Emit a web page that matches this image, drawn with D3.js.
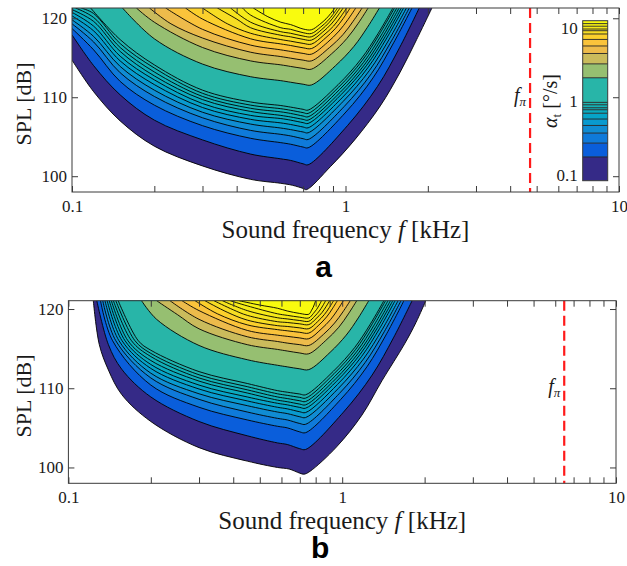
<!DOCTYPE html>
<html lang="en">
<head>
<meta charset="utf-8" />
<title>Rotation rate contours</title>
<style>
  body { margin: 0; background: #fff; }
  svg { display: block; font-family: 'Liberation Serif', serif; }
</style>
</head>
<body>
<svg id="chart" width="627" height="566"></svg>
<script src="https://d3js.org/d3.v7.min.js"></script>
<script>
// -----------------------------------------------------
// Data
// -----------------------------------------------------
// contour levels of alpha_t [deg/s], outermost first
const levels = [0.1, 0.175, 0.27, 0.37, 0.47, 0.575, 0.69, 0.77, 0.82, 0.9, 0.97,
                2.1, 3.25, 4.5, 5.7, 7.0, 8.3, 9.2, 9.7, 10.6, 11.5];
const cbDomain = [0.083, 12.6];
const cbTicks = [0.1, 1, 10];
const xTicks = [0.1, 1, 10];
const yTicks = [100, 110, 120];
const fPiA = 4.73;   // kHz
const fPiB = 6.47;   // kHz

// panel a: each contour as [frequency kHz, SPL dB] points
const contoursA = [
  [[0.1,114.7],[0.12,110.7],[0.15,107.0],[0.2,103.8],[0.3,101.3],[0.45,99.6],[0.58,99.1],[0.64,98.85],[0.7,98.45],[0.72,98.3],[0.88,101.2],[1.08,104.6],[1.34,108.9],[1.58,113.1],[1.82,117.3],[2.07,121.3]],
  [[0.1,117.9],[0.12,114.0],[0.15,110.3],[0.2,107.1],[0.3,104.6],[0.45,102.8],[0.58,102.2],[0.63,102.0],[0.7,101.57],[0.73,101.45],[1.017,106.41],[1.31,111.38],[1.58,116.34],[1.86,121.3]],
  [[0.1,118.7],[0.12,116.0],[0.15,112.0],[0.2,109.0],[0.3,106.4],[0.45,104.8],[0.58,104.25],[0.63,104.05],[0.7,103.69],[0.73,103.6],[0.996,108.0],[1.261,112.45],[1.5,116.9],[1.75,121.3]],
  [[0.1,119.3],[0.12,117.0],[0.15,113.1],[0.2,110.1],[0.3,107.4],[0.45,105.8],[0.58,105.3],[0.63,105.1],[0.7,104.75],[0.73,104.65],[0.988,108.81],[1.243,112.98],[1.473,117.14],[1.71,121.3]],
  [[0.1,119.8],[0.12,117.7],[0.15,113.9],[0.2,110.9],[0.3,108.1],[0.45,106.6],[0.58,106.1],[0.63,105.9],[0.7,105.6],[0.73,105.5],[0.979,109.45],[1.224,113.4],[1.445,117.35],[1.67,121.3]],
  [[0.1,120.3],[0.12,118.4],[0.15,114.6],[0.2,111.6],[0.3,108.7],[0.45,107.2],[0.58,106.75],[0.63,106.55],[0.7,106.23],[0.73,106.13],[0.971,109.92],[1.206,113.72],[1.416,117.51],[1.63,121.3]],
  [[0.1,120.75],[0.12,119.0],[0.15,115.2],[0.2,112.2],[0.3,109.2],[0.45,107.7],[0.58,107.3],[0.63,107.1],[0.7,106.78],[0.73,106.68],[0.964,110.34],[1.192,113.99],[1.395,117.65],[1.60,121.3]],
  [[0.1,121.1],[0.12,119.6],[0.15,115.8],[0.2,112.7],[0.3,109.7],[0.45,108.2],[0.58,107.7],[0.63,107.5],[0.7,107.2],[0.73,107.1],[0.958,110.65],[1.178,114.2],[1.373,117.75],[1.57,121.3]],
  [[0.103,121.3],[0.12,120.1],[0.15,116.3],[0.2,113.2],[0.3,110.1],[0.45,108.6],[0.58,108.15],[0.63,107.95],[0.7,107.62],[0.73,107.52],[0.951,110.97],[1.164,114.41],[1.352,117.86],[1.54,121.3]],
  [[0.108,121.3],[0.12,120.6],[0.15,116.8],[0.2,113.7],[0.3,110.5],[0.45,109.0],[0.58,108.55],[0.63,108.35],[0.7,108.05],[0.73,107.95],[0.945,111.29],[1.15,114.63],[1.329,117.96],[1.51,121.3]],
  [[0.117,121.3],[0.15,117.3],[0.2,114.1],[0.3,110.9],[0.45,109.4],[0.58,108.95],[0.63,108.75],[0.7,108.47],[0.73,108.37],[0.94,111.6],[1.14,114.84],[1.316,118.07],[1.49,121.3]],
  [[0.153,121.3],[0.2,117.4],[0.3,114.2],[0.45,112.6],[0.58,112.1],[0.63,111.9],[0.7,111.65],[0.75,111.55],[0.919,113.99],[1.073,116.43],[1.203,118.86],[1.33,121.3]],
  [[0.172,121.3],[0.2,119.5],[0.3,116.3],[0.45,114.6],[0.58,114.1],[0.63,113.9],[0.7,113.65],[0.75,113.55],[0.889,115.49],[1.011,117.43],[1.113,119.36],[1.21,121.3]],
  [[0.192,121.3],[0.23,119.3],[0.3,117.5],[0.45,115.7],[0.58,115.15],[0.63,114.95],[0.7,114.7],[0.75,114.6],[0.873,116.28],[0.98,117.95],[1.067,119.63],[1.15,121.3]],
  [[0.22,121.3],[0.3,118.6],[0.45,116.6],[0.58,116.0],[0.63,115.8],[0.7,115.55],[0.75,115.45],[0.857,116.91],[0.947,118.38],[1.021,119.84],[1.09,121.3]],
  [[0.26,121.3],[0.3,119.9],[0.45,117.4],[0.58,116.75],[0.63,116.55],[0.7,116.26],[0.75,116.16],[0.842,117.45],[0.92,118.73],[0.982,120.0],[1.04,121.3]],
  [[0.30,121.3],[0.37,119.3],[0.45,118.1],[0.58,117.3],[0.63,117.1],[0.7,116.82],[0.75,116.72],[0.833,117.87],[0.904,119.01],[0.959,120.16],[1.01,121.3]],
  [[0.34,121.3],[0.4,119.9],[0.45,118.8],[0.58,117.85],[0.63,117.65],[0.7,117.33],[0.75,117.23],[0.825,118.25],[0.887,119.27],[0.935,120.28],[0.98,121.3]],
  [[0.38,121.3],[0.45,119.5],[0.58,118.3],[0.63,118.1],[0.7,117.75],[0.75,117.65],[0.818,118.56],[0.872,119.48],[0.915,120.39],[0.955,121.3]],
  [[0.42,121.3],[0.45,120.4],[0.58,118.8],[0.63,118.6],[0.7,118.17],[0.75,118.07],[0.811,118.88],[0.861,119.68],[0.9,120.49],[0.935,121.3]],
  [[0.46,121.3],[0.52,120.2],[0.58,119.5],[0.63,119.2],[0.7,118.64],[0.75,118.54],[0.805,119.23],[0.849,119.93],[0.884,120.62],[0.915,121.3]]
];

// panel b
const contoursB = [
  [[0.1233,121.05],[0.1297,115.5],[0.14,112.3],[0.1566,109.2],[0.2,105.8],[0.3,102.5],[0.45,100.8],[0.58,100.0],[0.64,99.8],[0.7,99.28],[0.725,99.15],[0.762,99.5],[0.954,102.6],[1.18,106.6],[1.40,111.0],[1.69,115.6],[1.86,118.3],[2.02,121.05]],
  [[0.127,121.05],[0.14,115.5],[0.1566,112.4],[0.2,108.9],[0.3,105.8],[0.45,104.0],[0.58,103.1],[0.63,102.9],[0.7,102.37],[0.735,102.27],[1.01,106.97],[1.286,111.66],[1.539,116.36],[1.80,121.05]],
  [[0.131,121.05],[0.145,116.0],[0.2,110.4],[0.3,107.6],[0.45,106.0],[0.58,105.2],[0.63,105.0],[0.7,104.49],[0.735,104.39],[0.986,108.56],[1.232,112.72],[1.454,116.89],[1.68,121.05]],
  [[0.1335,121.05],[0.149,116.0],[0.2,111.3],[0.3,108.6],[0.45,107.0],[0.58,106.2],[0.63,106.0],[0.7,105.55],[0.735,105.45],[0.977,109.35],[1.213,113.25],[1.425,117.15],[1.64,121.05]],
  [[0.136,121.05],[0.153,116.0],[0.2,111.9],[0.3,109.3],[0.45,107.8],[0.58,107.0],[0.63,106.8],[0.7,106.4],[0.735,106.3],[0.969,109.99],[1.195,113.68],[1.397,117.36],[1.60,121.05]],
  [[0.1385,121.05],[0.157,116.0],[0.2,112.5],[0.3,109.9],[0.45,108.4],[0.58,107.6],[0.63,107.4],[0.7,107.03],[0.735,106.93],[0.96,110.46],[1.176,113.99],[1.368,117.52],[1.56,121.05]],
  [[0.141,121.05],[0.161,116.0],[0.2,113.0],[0.3,110.4],[0.45,108.9],[0.58,108.1],[0.63,107.9],[0.7,107.58],[0.735,107.48],[0.953,110.87],[1.162,114.27],[1.346,117.66],[1.53,121.05]],
  [[0.1435,121.05],[0.165,116.0],[0.2,113.5],[0.3,110.9],[0.45,109.4],[0.58,108.5],[0.63,108.3],[0.7,108.0],[0.735,107.9],[0.947,111.19],[1.148,114.48],[1.325,117.76],[1.50,121.05]],
  [[0.146,121.05],[0.170,116.0],[0.2,114.0],[0.3,111.3],[0.45,109.8],[0.58,108.9],[0.63,108.7],[0.7,108.42],[0.735,108.32],[0.94,111.5],[1.134,114.69],[1.302,117.87],[1.47,121.05]],
  [[0.149,121.05],[0.175,116.0],[0.2,114.4],[0.3,111.7],[0.45,110.2],[0.58,109.3],[0.63,109.1],[0.7,108.85],[0.735,108.75],[0.933,111.83],[1.12,114.9],[1.28,117.98],[1.44,121.05]],
  [[0.152,121.05],[0.180,116.0],[0.2,114.8],[0.3,112.1],[0.45,110.6],[0.58,109.7],[0.63,109.5],[0.7,109.27],[0.735,109.17],[0.928,112.14],[1.109,115.11],[1.266,118.08],[1.42,121.05]],
  [[0.185,121.05],[0.21,118.7],[0.3,115.4],[0.45,113.6],[0.58,112.9],[0.63,112.7],[0.7,112.45],[0.755,112.35],[0.903,114.53],[1.034,116.7],[1.145,118.88],[1.25,121.05]],
  [[0.21,121.05],[0.25,119.3],[0.3,117.5],[0.45,115.5],[0.58,114.9],[0.63,114.7],[0.7,114.45],[0.755,114.35],[0.871,116.03],[0.972,117.7],[1.053,119.38],[1.13,121.05]],
  [[0.235,121.05],[0.3,118.7],[0.45,116.5],[0.58,115.9],[0.63,115.7],[0.7,115.5],[0.755,115.4],[0.855,116.81],[0.938,118.23],[1.006,119.64],[1.07,121.05]],
  [[0.26,121.05],[0.3,119.8],[0.45,117.3],[0.58,116.7],[0.63,116.55],[0.7,116.35],[0.755,116.25],[0.837,117.45],[0.906,118.65],[0.96,119.85],[1.01,121.05]],
  [[0.29,121.05],[0.35,119.4],[0.45,118.0],[0.58,117.4],[0.63,117.25],[0.7,117.06],[0.755,116.96],[0.822,117.98],[0.877,119.0],[0.92,120.02],[0.96,121.05]],
  [[0.315,121.05],[0.38,119.6],[0.45,118.6],[0.58,117.9],[0.63,117.8],[0.7,117.62],[0.755,117.52],[0.813,118.4],[0.86,119.29],[0.897,120.17],[0.93,121.05]],
  [[0.34,121.05],[0.4,119.9],[0.45,119.2],[0.58,118.4],[0.63,118.3],[0.7,118.13],[0.755,118.03],[0.803,118.79],[0.843,119.54],[0.873,120.3],[0.90,121.05]],
  [[0.365,121.05],[0.45,119.8],[0.58,118.9],[0.63,118.75],[0.7,118.55],[0.755,118.45],[0.794,119.1],[0.825,119.75],[0.849,120.4],[0.87,121.05]],
  [[0.39,121.05],[0.45,120.4],[0.58,119.4],[0.63,119.2],[0.7,118.97],[0.755,118.87],[0.784,119.42],[0.807,119.96],[0.825,120.51],[0.84,121.05]],
  [[0.42,121.05],[0.5,120.5],[0.58,120.1],[0.63,119.75],[0.7,119.44],[0.755,119.34],[0.771,119.77],[0.783,120.2],[0.792,120.62],[0.80,121.05]]
];

// parula colour stops (style)
const parula = ["#352a87","#3243ba","#0363e1","#0d75dc","#1485d4","#0998d1","#06a7c6",
                "#15b1b4","#38b99e","#65be86","#92bf73","#b7bd64","#d9ba56","#f8bb44",
                "#fcce2e","#f5e41d","#f9fb0e"];
const parulaPos = [0,4,8,12,16,20,24,28,32,36,40,44,48,52,56,60,63].map(r => r / 63);
const colorT = d3.scaleLinear().domain(parulaPos).range(parula).clamp(true);
const levelPos = d3.scaleLog().domain([levels[0], levels[levels.length - 1]]).range([0, 1]);
const bandColor = i => colorT(levelPos(levels[i]));

const svg = d3.select("#chart");
const axisColor = "#3a3a3a";
const textColor = "#1a1a1a";

// -----------------------------------------------------
// One contour panel
// -----------------------------------------------------
function drawPanel(p) {
  const x = d3.scaleLog().domain([0.1, 10]).range([p.left, p.right]);
  const y = d3.scaleLinear().domain(p.yDomain).range([p.bottom, p.top]);
  const g = svg.append("g");

  const clipId = "clip-" + p.name;
  svg.append("clipPath").attr("id", clipId).append("rect")
    .attr("x", p.left).attr("y", p.top)
    .attr("width", p.right - p.left).attr("height", p.bottom - p.top);

  const plot = g.append("g").attr("clip-path", `url(#${clipId})`);
  const line = d3.line()
    .x(d => x(d[0])).y(d => y(d[1]))
    .curve(d3.curveCatmullRom.alpha(0.5));
  const above = p.top - 20;

  // filled bands, lowest level first
  plot.selectAll("path.band").data(p.contours).join("path")
    .attr("class", "band")
    .attr("d", pts => line(pts) +
      `L${x(pts[pts.length - 1][0])},${above}L${x(pts[0][0])},${above}Z`)
    .attr("fill", (pts, i) => bandColor(i))
    .attr("stroke", "none");

  // contour lines
  plot.selectAll("path.iso").data(p.contours).join("path")
    .attr("class", "iso")
    .attr("d", line)
    .attr("fill", "none")
    .attr("stroke", "#000")
    .attr("stroke-width", 0.9);

  // f_pi marker
  g.append("line")
    .attr("x1", x(p.fPi)).attr("x2", x(p.fPi))
    .attr("y1", p.top).attr("y2", p.bottom)
    .attr("stroke", "#ff1a1a").attr("stroke-width", 2.2)
    .attr("stroke-dasharray", "10,5");
  const fl = g.append("text")
    .attr("x", x(p.fPi) - 4).attr("y", p.fPiLabelY)
    .attr("text-anchor", "end").attr("font-size", 20).attr("fill", textColor);
  fl.append("tspan").attr("font-style", "italic").text("f");
  fl.append("tspan").attr("font-size", 13).attr("font-style", "italic").attr("dy", 4).text("π");

  // axes (ticks point inwards)
  const styleAxis = sel => {
    sel.select(".domain").remove();
    sel.selectAll(".tick line").attr("stroke", axisColor);
    sel.selectAll(".tick text").attr("fill", textColor)
      .attr("font-size", 17).attr("font-family", "'Liberation Serif', serif");
  };
  const isLabelled = d => xTicks.some(t => Math.abs(t - d) < 1e-9);
  g.append("g").attr("transform", `translate(0,${p.bottom})`)
    .call(d3.axisBottom(x).tickValues(x.ticks())
      .tickSizeInner(-6).tickSizeOuter(0).tickPadding(8)
      .tickFormat(d => isLabelled(d) ? d3.format("~g")(d) : ""))
    .call(styleAxis);
  g.append("g").attr("transform", `translate(0,${p.top})`)
    .call(d3.axisTop(x).tickValues(x.ticks()).tickSizeInner(-6).tickSizeOuter(0).tickFormat(""))
    .call(styleAxis);
  g.append("g").attr("transform", `translate(${p.left},0)`)
    .call(d3.axisLeft(y).tickValues(yTicks).tickSizeInner(-6).tickSizeOuter(0).tickPadding(5))
    .call(styleAxis);
  g.append("g").attr("transform", `translate(${p.right},0)`)
    .call(d3.axisRight(y).tickValues(yTicks).tickSizeInner(-6).tickSizeOuter(0).tickFormat(""))
    .call(styleAxis);

  g.append("rect")
    .attr("x", p.left).attr("y", p.top)
    .attr("width", p.right - p.left).attr("height", p.bottom - p.top)
    .attr("fill", "none").attr("stroke", axisColor).attr("stroke-width", 1);

  // axis titles
  const xt = g.append("text")
    .attr("x", (p.left + p.right) / 2).attr("y", p.bottom + 46)
    .attr("text-anchor", "middle").attr("font-size", 25).attr("fill", textColor);
  xt.append("tspan").text("Sound frequency ");
  xt.append("tspan").attr("font-style", "italic").text("f");
  xt.append("tspan").text(" [kHz]");

  g.append("text")
    .attr("transform", `translate(31,${(p.top + p.bottom) / 2 + 4}) rotate(-90)`)
    .attr("text-anchor", "middle").attr("font-size", 22).attr("fill", textColor)
    .text("SPL [dB]");

  g.append("text")
    .attr("x", (p.left + p.right) / 2 - 22).attr("y", p.labelY)
    .attr("text-anchor", "middle")
    .attr("font-family", "'Liberation Sans', Arial, sans-serif")
    .attr("font-weight", "bold").attr("font-size", 30)
    .text(p.name);

  return { x, y, g };
}

drawPanel({ name: "a", left: 72, right: 619, top: 8, bottom: 192, labelY: 277,
            yDomain: [98, 121.3], contours: contoursA, fPi: fPiA, fPiLabelY: 102 });
drawPanel({ name: "b", left: 68.4, right: 616, top: 300.7, bottom: 483.3, labelY: 558,
            yDomain: [98, 121.05], contours: contoursB, fPi: fPiB, fPiLabelY: 393 });

// -----------------------------------------------------
// Colour bar (panel a)
// -----------------------------------------------------
const cb = { left: 582.7, right: 607.7, top: 20.7, bottom: 180.7 };
const yCb = d3.scaleLog().domain(cbDomain).range([cb.bottom, cb.top]);
const cbG = svg.append("g");
const edges = [cbDomain[0], ...levels.slice(1), cbDomain[1]];
cbG.selectAll("rect.cband").data(levels).join("rect")
  .attr("class", "cband")
  .attr("x", cb.left).attr("width", cb.right - cb.left)
  .attr("y", (d, i) => yCb(edges[i + 1]))
  .attr("height", (d, i) => yCb(edges[i]) - yCb(edges[i + 1]))
  .attr("fill", (d, i) => bandColor(i));
cbG.selectAll("line.clev").data(levels.slice(1)).join("line")
  .attr("class", "clev")
  .attr("x1", cb.left).attr("x2", cb.right)
  .attr("y1", d => yCb(d)).attr("y2", d => yCb(d))
  .attr("stroke", "#222").attr("stroke-width", 0.9);
cbG.append("g").attr("transform", `translate(${cb.left},0)`)
  .call(d3.axisLeft(yCb).tickValues(cbTicks).tickSizeInner(0).tickSizeOuter(0).tickPadding(5)
    .tickFormat(d3.format("~g")))
  .call(sel => {
    sel.select(".domain").remove();
    sel.selectAll(".tick text").attr("fill", textColor).attr("font-size", 17)
      .attr("font-family", "'Liberation Serif', serif");
  });
cbG.append("rect")
  .attr("x", cb.left).attr("y", cb.top)
  .attr("width", cb.right - cb.left).attr("height", cb.bottom - cb.top)
  .attr("fill", "none").attr("stroke", axisColor).attr("stroke-width", 1);

const cbl = cbG.append("text")
  .attr("transform", "translate(557,101) rotate(-90)")
  .attr("text-anchor", "middle").attr("font-size", 20).attr("fill", textColor);
cbl.append("tspan").attr("font-style", "italic").text("α");
cbl.append("tspan").attr("font-size", 13).attr("dy", 4).text("t");
cbl.append("tspan").attr("dy", -4).text(" [°/s]");
</script>
</body>
</html>
